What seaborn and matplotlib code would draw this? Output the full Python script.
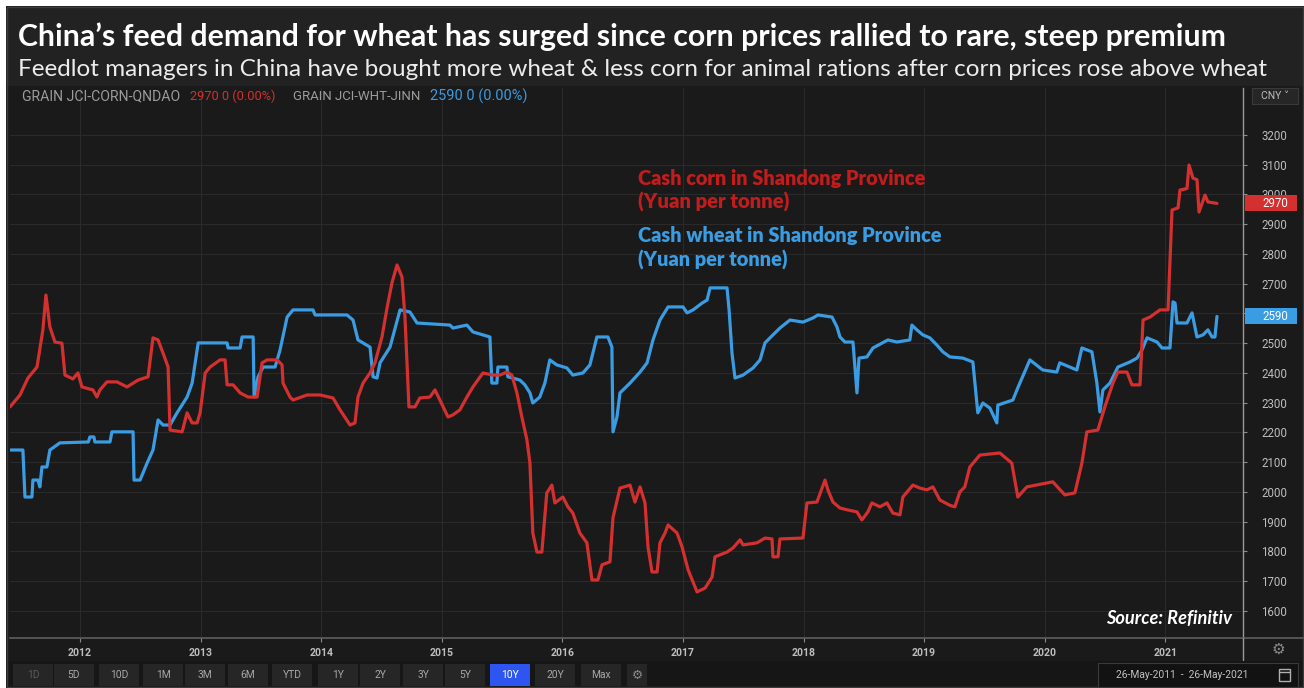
import numpy as np
import pandas as pd
import matplotlib
matplotlib.use("Agg")
import matplotlib.pyplot as plt
import matplotlib.transforms as mtransforms
from matplotlib.patches import Rectangle
from matplotlib.lines import Line2D
import seaborn as sns

# ---------------------------------------------------------------------------
# Data: Shandong cash prices, yuan per tonne. Time is given as decimal years.
# ---------------------------------------------------------------------------
corn_t = [2011.420, 2011.503, 2011.569, 2011.644, 2011.693, 2011.718, 2011.751, 2011.793,
          2011.851, 2011.876, 2011.942, 2011.984, 2012.017, 2012.108, 2012.141, 2012.166,
          2012.224, 2012.307, 2012.390, 2012.481, 2012.564, 2012.605, 2012.647, 2012.688,
          2012.730, 2012.746, 2012.846, 2012.887, 2012.929, 2012.970, 2012.995, 2013.037,
          2013.078, 2013.161, 2013.202, 2013.219, 2013.269, 2013.327, 2013.393, 2013.468,
          2013.509, 2013.551, 2013.634, 2013.675, 2013.683, 2013.741, 2013.766, 2013.882,
          2013.990, 2014.098, 2014.156, 2014.239, 2014.280, 2014.305, 2014.347, 2014.405,
          2014.446, 2014.504, 2014.546, 2014.587, 2014.629, 2014.670, 2014.695, 2014.728,
          2014.778, 2014.819, 2014.902, 2014.944, 2014.985, 2015.052, 2015.093, 2015.151,
          2015.209, 2015.259, 2015.342, 2015.425, 2015.483, 2015.541, 2015.582, 2015.624,
          2015.665, 2015.707, 2015.732, 2015.756, 2015.790, 2015.831, 2015.872, 2015.914,
          2015.939, 2016.005, 2016.047, 2016.088, 2016.146, 2016.204, 2016.246, 2016.295,
          2016.329, 2016.395, 2016.420, 2016.478, 2016.561, 2016.602, 2016.644, 2016.685,
          2016.710, 2016.743, 2016.785, 2016.809, 2016.851, 2016.876, 2016.950, 2016.992,
          2017.042, 2017.116, 2017.183, 2017.241, 2017.265, 2017.365, 2017.415, 2017.473,
          2017.498, 2017.614, 2017.680, 2017.738, 2017.746, 2017.788, 2017.804, 2017.995,
          2018.028, 2018.111, 2018.178, 2018.202, 2018.244, 2018.302, 2018.360, 2018.443,
          2018.484, 2018.534, 2018.567, 2018.634, 2018.692, 2018.741, 2018.800, 2018.824,
          2018.907, 2018.965, 2019.023, 2019.073, 2019.131, 2019.214, 2019.256, 2019.297,
          2019.338, 2019.380, 2019.463, 2019.629, 2019.728, 2019.778, 2019.853, 2020.068,
          2020.168, 2020.251, 2020.309, 2020.350, 2020.441, 2020.499, 2020.566, 2020.607,
          2020.682, 2020.723, 2020.790, 2020.815, 2020.873, 2020.955, 2021.022, 2021.055,
          2021.105, 2021.121, 2021.179, 2021.196, 2021.229, 2021.262, 2021.279, 2021.329,
          2021.353, 2021.428]
corn_v = [2286, 2326, 2383, 2420, 2545, 2662, 2555, 2504,
          2500, 2393, 2380, 2400, 2353, 2343, 2319, 2343,
          2370, 2370, 2353, 2376, 2387, 2518, 2511, 2467,
          2420, 2208, 2202, 2266, 2232, 2232, 2266, 2400,
          2420, 2444, 2444, 2360, 2360, 2333, 2319, 2319,
          2434, 2444, 2444, 2427, 2366, 2319, 2309, 2326,
          2326, 2316, 2276, 2225, 2232, 2319, 2366, 2400,
          2434, 2521, 2618, 2703, 2763, 2723, 2588, 2286,
          2286, 2316, 2319, 2343, 2309, 2252, 2259, 2276,
          2319, 2353, 2400, 2393, 2393, 2403, 2393, 2333,
          2252, 2175, 2097, 1862, 1798, 1798, 1997, 2023,
          1963, 1983, 1950, 1929, 1862, 1829, 1704, 1704,
          1755, 1765, 1913, 2013, 2023, 1966, 2017, 1963,
          1815, 1731, 1731, 1829, 1862, 1889, 1862, 1815,
          1738, 1664, 1677, 1714, 1782, 1798, 1812, 1839,
          1822, 1829, 1845, 1842, 1782, 1782, 1842, 1845,
          1963, 1966, 2040, 2007, 1966, 1946, 1940, 1933,
          1906, 1933, 1963, 1950, 1963, 1929, 1923, 1983,
          2023, 2013, 2007, 2017, 1973, 1955, 1950, 2000,
          2017, 2084, 2124, 2131, 2097, 1983, 2017, 2034,
          1990, 1997, 2097, 2202, 2208, 2286, 2366, 2403,
          2403, 2360, 2360, 2578, 2588, 2612, 2612, 2948,
          2955, 3015, 3020, 3099, 3055, 3050, 2941, 2998,
          2975, 2970]

wheat_t = [2011.420, 2011.527, 2011.544, 2011.602, 2011.610, 2011.652, 2011.668, 2011.685,
           2011.726, 2011.751, 2011.834, 2012.070, 2012.083, 2012.116, 2012.124, 2012.249,
           2012.265, 2012.440, 2012.448, 2012.498, 2012.556, 2012.605, 2012.647, 2012.688,
           2012.746, 2012.804, 2012.887, 2012.929, 2012.979, 2013.219, 2013.227, 2013.327,
           2013.343, 2013.435, 2013.443, 2013.476, 2013.518, 2013.617, 2013.658, 2013.717,
           2013.766, 2013.932, 2013.949, 2014.214, 2014.264, 2014.305, 2014.405, 2014.430,
           2014.463, 2014.488, 2014.571, 2014.654, 2014.736, 2014.795, 2015.068, 2015.093,
           2015.209, 2015.259, 2015.342, 2015.400, 2015.416, 2015.458, 2015.466, 2015.541,
           2015.549, 2015.590, 2015.649, 2015.690, 2015.732, 2015.756, 2015.814, 2015.856,
           2015.897, 2015.955, 2016.038, 2016.088, 2016.171, 2016.229, 2016.287, 2016.378,
           2016.411, 2016.420, 2016.453, 2016.478, 2016.561, 2016.644, 2016.702, 2016.751,
           2016.809, 2016.876, 2017.000, 2017.033, 2017.083, 2017.158, 2017.199, 2017.224,
           2017.365, 2017.382, 2017.406, 2017.431, 2017.498, 2017.581, 2017.639, 2017.680,
           2017.746, 2017.804, 2017.887, 2017.995, 2018.078, 2018.120, 2018.236, 2018.277,
           2018.302, 2018.343, 2018.410, 2018.443, 2018.460, 2018.526, 2018.576, 2018.700,
           2018.775, 2018.882, 2018.899, 2018.940, 2018.990, 2019.048, 2019.106, 2019.156,
           2019.214, 2019.322, 2019.405, 2019.446, 2019.488, 2019.546, 2019.604, 2019.612,
           2019.737, 2019.778, 2019.878, 2019.985, 2020.101, 2020.126, 2020.209, 2020.267,
           2020.309, 2020.392, 2020.433, 2020.458, 2020.483, 2020.541, 2020.607, 2020.707,
           2020.765, 2020.806, 2020.848, 2020.889, 2020.931, 2020.972, 2021.038, 2021.063,
           2021.080, 2021.096, 2021.179, 2021.221, 2021.262, 2021.312, 2021.353, 2021.387,
           2021.411, 2021.428]
wheat_v = [2141, 2141, 1983, 1983, 2040, 2040, 2017, 2084,
           2084, 2141, 2165, 2168, 2185, 2185, 2168, 2168,
           2202, 2202, 2040, 2040, 2097, 2141, 2242, 2225,
           2225, 2266, 2319, 2366, 2501, 2501, 2484, 2484,
           2521, 2521, 2319, 2387, 2420, 2420, 2477, 2588,
           2612, 2612, 2595, 2595, 2578, 2511, 2487, 2387,
           2383, 2434, 2487, 2612, 2605, 2568, 2561, 2551,
           2561, 2538, 2528, 2521, 2366, 2366, 2420, 2420,
           2387, 2383, 2376, 2360, 2333, 2299, 2319, 2366,
           2444, 2427, 2417, 2393, 2400, 2427, 2521, 2521,
           2487, 2202, 2252, 2333, 2366, 2403, 2434, 2511,
           2578, 2622, 2622, 2602, 2612, 2635, 2645, 2686,
           2686, 2612, 2467, 2383, 2393, 2417, 2444, 2501,
           2528, 2551, 2578, 2571, 2585, 2595, 2588, 2555,
           2521, 2504, 2504, 2333, 2450, 2454, 2484, 2511,
           2504, 2511, 2561, 2545, 2528, 2518, 2494, 2471,
           2454, 2450, 2437, 2266, 2299, 2282, 2232, 2292,
           2309, 2350, 2444, 2410, 2403, 2434, 2420, 2410,
           2484, 2471, 2366, 2269, 2343, 2366, 2420, 2437,
           2450, 2477, 2518, 2511, 2504, 2484, 2484, 2639,
           2635, 2568, 2568, 2602, 2521, 2528, 2545, 2521,
           2521, 2590]

corn_name = "GRAIN JCI-CORN-QNDAO"
wheat_name = "GRAIN JCI-WHT-JINN"
last_corn = 2970
last_wheat = 2590
years = list(range(2012, 2022))
price_ticks = list(range(1600, 3300, 100))
range_buttons = ["1D", "5D", "10D", "1M", "3M", "6M", "YTD", "1Y", "2Y", "3Y", "5Y", "10Y", "20Y", "Max"]
active_button = "10Y"
date_range = "26-May-2011  -  26-May-2021"

title = "China\u2019s feed demand for wheat has surged since corn prices rallied to rare, steep premium"
subtitle = ("Feedlot managers in China have bought more wheat & less corn for animal rations "
            "after corn prices rose above wheat")

# ---------------------------------------------------------------------------
RED = "#d3302f"
RED_TXT = "#c21d1d"
BLUE = "#3a9ce2"
BG = "#1a1a1a"
HEADER_BG = "#222222"
GRID = "#2a2a2a"
TICK_TXT = "#bdbdbd"

sns.set_theme(style="dark")
plt.rcParams["font.family"] = ["Roboto", "DejaVu Sans"]


def to_dates(ts):
    out = []
    for t in ts:
        y = int(np.floor(t))
        a = pd.Timestamp(year=y, month=1, day=1)
        b = pd.Timestamp(year=y + 1, month=1, day=1)
        out.append(a + (b - a) * (t - y))
    return out


df = pd.concat([
    pd.DataFrame({"date": to_dates(corn_t), "price": corn_v, "series": "corn"}),
    pd.DataFrame({"date": to_dates(wheat_t), "price": wheat_v, "series": "wheat"}),
], ignore_index=True)

W, H = 1304, 688
fig = plt.figure(figsize=(W / 100, H / 100), dpi=100)
fig.patch.set_facecolor(BG)


def fx(px):
    return px / W


def fy(py):
    return 1 - py / H


# header band, white outer margin and panel frame
fig.add_artist(Rectangle((fx(6), fy(86)), fx(1304) - fx(6), fy(6) - fy(86),
                         transform=fig.transFigure, fc=HEADER_BG, ec="none", zorder=0))
fig.add_artist(Rectangle((0, fy(6)), 1, fy(0) - fy(6), transform=fig.transFigure,
                         fc="white", ec="none", zorder=0))
fig.add_artist(Rectangle((0, 0), fx(6), 1, transform=fig.transFigure,
                         fc="white", ec="none", zorder=0))
fig.add_artist(Rectangle((fx(7), fy(687)), fx(1303) - fx(7), fy(7) - fy(687),
                         transform=fig.transFigure, fc="none", ec="#3c3c3c", lw=1, zorder=1))

# main plotting area
ax = fig.add_axes([fx(10), fy(638), fx(1243) - fx(10), fy(88) - fy(638)])
ax.set_facecolor(BG)

sns.lineplot(data=df, x="date", y="price", hue="series",
             palette={"corn": RED, "wheat": BLUE}, hue_order=["wheat", "corn"],
             estimator=None, sort=False, linewidth=2.3, legend=False, ax=ax)

ax.set_xlim(to_dates([2011.42])[0], to_dates([2021.644])[0])
ax.set_ylim(1509, 3358)

ax.set_xticks(to_dates(years))
ax.set_xticklabels([str(y) for y in years])
ax.set_yticks(price_ticks)
ax.set_yticklabels([str(v) for v in price_ticks])
ax.yaxis.tick_right()
ax.set_xlabel("")
ax.set_ylabel("")
ax.grid(True, color=GRID, linewidth=0.8)
ax.tick_params(axis="y", which="both", right=True, left=False, length=3, width=0.8,
               color="#8a8a8a", pad=10, labelsize=8.3, labelcolor=TICK_TXT)
ax.tick_params(axis="x", which="both", bottom=True, length=3, width=0.8,
               color="#8a8a8a", pad=4, labelsize=7.6, labelcolor=TICK_TXT)
for lab in ax.get_xticklabels():
    lab.set_fontweight("bold")
for side in ["top", "left"]:
    ax.spines[side].set_visible(False)
ax.spines["right"].set_color("#9a9a9a")
ax.spines["right"].set_linewidth(1.0)
ax.spines["bottom"].set_color("#5e5e5e")
ax.spines["bottom"].set_linewidth(1.2)

# bottom rule continues under the price scale
fig.add_artist(Line2D([fx(1243), fx(1303)], [fy(638), fy(638)], transform=fig.transFigure,
                      color="#5e5e5e", lw=1.2))
# price scale rule runs down to the settings row
fig.add_artist(Line2D([fx(1243), fx(1243)], [fy(638), fy(660)], transform=fig.transFigure,
                      color="#9a9a9a", lw=1.0))

# last-price tags on the price scale
blend = mtransforms.blended_transform_factory(fig.transFigure, ax.transData)
tag_h = 54
for val, col in [(last_corn, RED), (last_wheat, BLUE)]:
    ax.add_patch(Rectangle((fx(1245), val - tag_h / 2), fx(1297) - fx(1245), tag_h,
                           transform=blend, fc=col, ec="none", clip_on=False, zorder=6))
    ax.text(fx(1262), val, str(val), transform=blend, ha="left", va="center",
            color="white", fontsize=8.3, zorder=7, clip_on=False)


def fit_text(x0, x1, yc, s, **kw):
    t = fig.text(fx(x0), fy(yc), s, ha="left", va="center", **kw)
    r = fig.canvas.get_renderer()
    w = t.get_window_extent(renderer=r).width
    t.set_fontsize(t.get_fontsize() * (x1 - x0) / w)
    return t


LATO = ["Lato", "DejaVu Sans"]

# titles
fit_text(18, 1222, 37, title, color="white", fontweight="bold", fontsize=20, family=LATO)
fit_text(18, 1268, 70, subtitle, color="#ececec", fontsize=16, family=LATO)

# instrument legend row
row_y = 96
fit_text(22, 180, row_y, corn_name, color="#9c9c9c", fontsize=8)
fit_text(190, 275, row_y, f"{last_corn} 0 (0.00%)", color=RED, fontsize=8)
fit_text(293, 420, row_y, wheat_name, color="#9c9c9c", fontsize=8)
fit_text(430, 527, row_y, f"{last_wheat} 0 (0.00%)", color=BLUE, fontsize=8)

# currency selector
fig.add_artist(Rectangle((fx(1252), fy(104)), fx(1298) - fx(1252), fy(88) - fy(104),
                         transform=fig.transFigure, fc="#262626", ec="#3a3a3a", lw=0.8))
fig.text(fx(1275), fy(96), "CNY \u02c5", color="#bdbdbd", fontsize=7.5, ha="center", va="center")

# series annotations
fit_text(638, 924, 178, "Cash corn in Shandong Province", color=RED_TXT, fontweight="heavy",
         fontsize=12, family=LATO)
fit_text(638, 789, 202, "(Yuan per tonne)", color=RED_TXT, fontweight="heavy",
         fontsize=12, family=LATO)
fit_text(638, 940, 236, "Cash wheat in Shandong Province", color=BLUE, fontweight="heavy",
         fontsize=12, family=LATO)
fit_text(638, 787, 260, "(Yuan per tonne)", color=BLUE, fontweight="heavy",
         fontsize=12, family=LATO)
fit_text(1106, 1232, 619, "Source: Refinitiv", color="white", fontweight="bold",
         fontstyle="italic", fontsize=11, family=LATO)

# settings gear under the price scale
fig.text(fx(1278), fy(649), "\u2699", color="#8a8a8a", fontsize=11, ha="center", va="center",
         family=["DejaVu Sans"])

# range-selector row
fig.add_artist(Rectangle((fx(7), fy(687)), fx(1303) - fx(7), fy(661) - fy(687),
                         transform=fig.transFigure, fc="#161616", ec="none", zorder=0))
btn_centers = [33, 74, 119, 163, 205, 248, 292, 338, 380, 423, 465, 510, 555, 601]
for lbl, cx in zip(range_buttons, btn_centers):
    active = lbl == active_button
    fig.add_artist(Rectangle((fx(cx - 20), fy(686)), fx(40), fy(664) - fy(686),
                             transform=fig.transFigure,
                             fc="#2f55f0" if active else "#262626", ec="none", zorder=1))
    col = "white" if active else ("#5a5a5a" if lbl == "1D" else "#a8a8a8")
    fig.text(fx(cx), fy(675), lbl, color=col, fontsize=7.4, ha="center", va="center", zorder=2)
fig.add_artist(Rectangle((fx(627), fy(686)), fx(20), fy(664) - fy(686),
                         transform=fig.transFigure, fc="#262626", ec="none", zorder=1))
fig.text(fx(637), fy(675), "\u2699", color="#8a8a8a", fontsize=9, ha="center", va="center",
         family=["DejaVu Sans"], zorder=2)

# date range box
fig.add_artist(Rectangle((fx(1098), fy(687)), fx(1298) - fx(1098), fy(663) - fy(687),
                         transform=fig.transFigure, fc="#121212", ec="#3a3a3a", lw=0.8, zorder=1))
fig.text(fx(1182), fy(675), date_range, color="#c2c2c2", fontsize=7.4, ha="center", va="center",
         zorder=2)
fig.add_artist(Rectangle((fx(1279), fy(681)), fx(11), fy(669) - fy(681),
                         transform=fig.transFigure, fc="none", ec="#b0b0b0", lw=1.0, zorder=2))
fig.add_artist(Line2D([fx(1279), fx(1290)], [fy(672), fy(672)], transform=fig.transFigure,
                      color="#b0b0b0", lw=1.0, zorder=2))

fig.savefig("out.png", dpi=100, facecolor=fig.get_facecolor())
